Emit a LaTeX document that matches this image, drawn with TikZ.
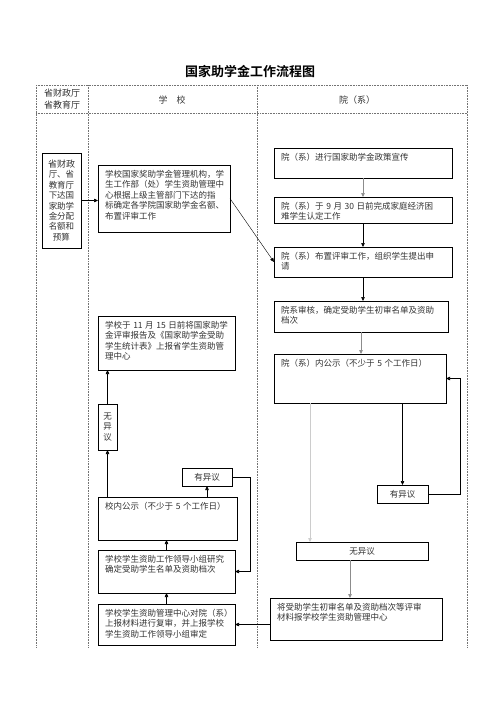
\documentclass[tikz,border=0pt]{standalone}
\usepackage{fontspec}
\setmainfont{Noto Sans CJK SC}[BoldFont={Noto Sans CJK SC Bold}]
\usetikzlibrary{arrows.meta,calc}
\tikzset{
 box/.style={draw=black, line width=0.7pt, inner sep=0pt, outer sep=0pt},
 txt/.style={font=\fontsize{8.5}{10.4}\selectfont, align=left, inner sep=0pt, text=black!80},
 ctxt/.style={font=\fontsize{8.5}{10.4}\selectfont, align=center, inner sep=0pt, text=black!80},
 htxt/.style={font=\fontsize{9}{12.5}\selectfont, align=center, inner sep=0pt, text=black!80},
 arr/.style={draw=black, line width=0.6pt, -{Triangle[length=4pt,width=3.5pt]}},
 garr/.style={arr, draw=black!45},
 lgarr/.style={arr, draw=black!20},
 lane/.style={draw=black!55, densely dotted, line width=0.6pt},
}
\newcommand{\wsp}{\hspace{0.3em}}
\newcommand{\flowbox}[6]{%
 \node[box, minimum width={(#4-#2)*1pt}, minimum height={(#5-#3)*1pt}, anchor=north west] (#1) at (#2,#3) {};
 \node[txt, anchor=north west] (#1-t) at (#2+7,#3+5) {#6};}
\newcommand{\cbox}[6]{%
 \node[box, minimum width={(#4-#2)*1pt}, minimum height={(#5-#3)*1pt}, anchor=north west] (#1) at (#2,#3) {};
 \node[ctxt] (#1-t) at (#1.center) {#6};}
\begin{document}
\begin{tikzpicture}[x=1pt,y=-1pt]
\useasboundingbox (0,0) rectangle (500,707);
\fill[white] (0,0) rectangle (500,707);
% title
\node[font=\fontsize{13}{15}\selectfont\bfseries, inner sep=0pt] (title) at (250,71) {国家助学金工作流程图};
% lanes
\draw[lane] (36,85) -- (467,85);
\draw[lane] (36,113) -- (467,113);
\draw[lane] (36,85) -- (36,648);
\draw[lane] (88,85) -- (88,648);
\draw[lane] (257,85) -- (257,648);
\draw[lane] (467,85) -- (467,648);
\node[htxt] (h1) at (62,99) {省财政厅\\省教育厅};
\node[htxt] (h2) at (172,100) {学\quad 校};
\node[htxt] (h3) at (357,100) {院（系）};
% left column
\cbox{L}{42}{153}{81}{248}{\fontsize{9}{11.6}\selectfont 省财政\\厅、省\\教育厅\\下达国\\家助学\\金分配\\名额和\\预算};
% school column
\flowbox{S1}{98}{165}{230}{232}{学校国家奖助学金管理机构，学\\生工作部（处）学生资助管理中\\心根据上级主管部门下达的指\\标确定各学院国家助学金名额、\\布置评审工作}
\flowbox{SR}{98}{316}{235}{370}{学校于\wsp 11\wsp 月\wsp 15\wsp 日前将国家助学\\金评审报告及《国家助学金受助\\学生统计表》上报省学生资助管\\理中心}
\cbox{NV}{98}{404}{117}{450}{\fontsize{8.5}{11.5}\selectfont 无\\异\\议}
\cbox{YS}{182}{468}{232}{486}{有异议}
\flowbox{SP}{98}{497}{237}{540}{校内公示（不少于\wsp 5\wsp 个工作日）}
\flowbox{SM}{98}{550}{235}{593}{学校学生资助工作领导小组研究\\确定受助学生名单及资助档次}
\flowbox{SB}{98}{604}{235}{645}{学校学生资助管理中心对院（系）\\上报材料进行复审，并上报学校\\学生资助工作领导小组审定}
% faculty column
\flowbox{A}{274}{148}{452}{178}{院（系）进行国家助学金政策宣传}
\flowbox{B}{274}{197}{452}{223}{院（系）于\wsp 9\wsp 月\wsp 30\wsp 日前完成家庭经济困\\难学生认定工作}
\flowbox{C}{274}{247}{452}{277}{院（系）布置评审工作，组织学生提出申\\请}
\flowbox{D}{274}{301}{448}{332}{院系审核，确定受助学生初审名单及资助\\档次}
\flowbox{E}{274}{354}{446}{403}{院（系）内公示（不少于\wsp 5\wsp 个工作日）}
\cbox{YR}{377}{485}{428}{503}{有异议}
\cbox{NR}{296}{542}{428}{560}{无异议}
\flowbox{F}{270}{598}{442}{640}{将受助学生初审名单及资助档次等评审\\材料报学校学生资助管理中心}
% connectors
\draw[arr] (L.east) -- (L.east -| S1.west);
\draw[arr, line width=0.4pt] (S1.east) -- (C.west);
\draw[garr] (A.south) -- (A.south |- B.north);
\draw[arr] (B.south) -- (B.south |- C.north);
\draw[arr] (C.south) -- (C.south |- D.north);
\draw[garr] (D.south) -- (D.south |- E.north);
\draw[arr] (YR.north |- E.south) -- (YR.north);
\draw[arr] (YR.east) -- ([xshift=32pt]YR.east) |- (E.east);
\draw[lgarr] ([xshift=14pt]NR.north west |- E.south) -- ([xshift=14pt]NR.north west);
\draw[garr] ([xshift=54pt]NR.south west) -- ([xshift=54pt]NR.south west |- F.north);
\draw[arr] (F.west |- SB.east) -- (SB.east);
\draw[arr] (SB.north) -- (SB.north |- SM.south);
\draw[arr] (SM.north) -- (SM.north |- SP.south);
\draw[arr] (NV.south |- SP.north) -- (NV.south);
\draw[arr] (NV.north) -- (NV.north |- SR.south);
\draw[arr] (YS.south |- SP.north) -- (YS.south);
\draw[arr] (YS.east) -- ([xshift=18pt]YS.east) |- (SM.east);
\end{tikzpicture}
\end{document}
